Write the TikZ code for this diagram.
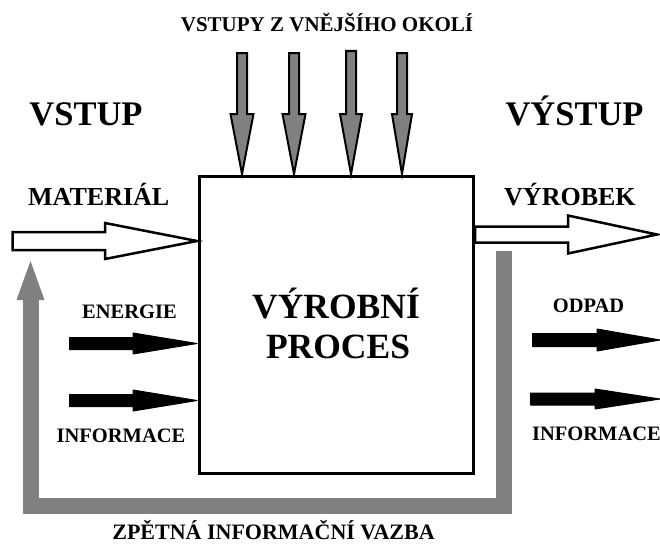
\documentclass[tikz,border=0pt]{standalone}
\usepackage{fontspec}
\setmainfont{Liberation Serif}
\definecolor{midgray}{RGB}{128,128,128}
\newcommand\harrow[7]{% style, x0, x1, y, xbase, shaft half, head half
  \path[#1] (#2,{#4-#6}) -- (#5,{#4-#6}) -- (#5,{#4-#7}) -- (#3,#4) -- (#5,{#4+#7}) -- (#5,{#4+#6}) -- (#2,{#4+#6}) -- cycle;}
\newcommand\varrow[7]{% style, x, y0, y1, ybase, shaft half, head half
  \path[#1] ({#2-#6},#3) -- ({#2-#6},#5) -- ({#2-#7},#5) -- (#2,#4) -- ({#2+#7},#5) -- ({#2+#6},#5) -- ({#2+#6},#3) -- cycle;}
\begin{document}
\begin{tikzpicture}[x=1pt,y=-1pt,
  lbl/.style={inner sep=0pt, font=\bfseries, anchor=base},
  whitearrow/.style={draw=black, fill=white, line width=2.5pt, line join=miter},
  blackarrow/.style={draw=black, fill=black, line width=1pt, line join=round},
  grayarrow/.style={draw=black, fill=midgray, line width=2pt, line join=miter},
  feedback/.style={draw=midgray, line width=16pt, line join=miter}]
\useasboundingbox (0,0) rectangle (660,543);
\fill[white] (0,0) rectangle (660,543);

% feedback loop
\coordinate (fbstart) at (504,251);
\coordinate (fbr) at (504,506);
\coordinate (fbl) at (30.5,506);
\coordinate (fbtop) at (30.5,299);
\draw[feedback] (fbstart) -- (fbr) -- (fbl) -- (fbtop);
\fill[midgray] (16.5,300) -- (30.5,261) -- (44.5,300) -- cycle;

% process box
\node[draw=black, line width=3pt, minimum width=274pt, minimum height=297pt, inner sep=0pt, outer sep=0pt] (box) at (336.5,324.5) {};
\node[lbl, font=\bfseries\fontsize{35.5}{40}\selectfont] (t1) at (336,318) {VÝROBNÍ};
\node[lbl, font=\bfseries\fontsize{35.5}{40}\selectfont] (t2) at (338,358) {PROCES};

% top input arrows
\varrow{grayarrow}{242}{53}{174}{114}{5}{11.5}
\varrow{grayarrow}{294}{53}{174}{114}{5}{11.5}
\varrow{grayarrow}{351}{51}{174}{114}{5}{11}
\varrow{grayarrow}{402}{53}{174}{114}{5}{10}

% material and product arrows
\harrow{whitearrow}{12.5}{197}{241}{105}{9}{18}
\harrow{whitearrow}{475}{657}{234.5}{568}{8}{19}

% energy / information arrows
\harrow{blackarrow}{69.5}{197}{343.5}{133}{6}{10.5}
\harrow{blackarrow}{69.5}{197}{400.5}{133}{6}{10.5}
\harrow{blackarrow}{532.5}{660}{340}{597}{6.5}{11}
\harrow{blackarrow}{530.5}{660}{399}{595}{6}{10}

% labels
\node[lbl, font=\bfseries\fontsize{21}{24}\selectfont] (top) at (327,32) {VSTUPY Z VNĚJŠÍHO OKOLÍ};
\node[lbl, font=\bfseries\fontsize{34.5}{38}\selectfont] (vstup) at (86,125) {VSTUP};
\node[lbl, font=\bfseries\fontsize{34.5}{38}\selectfont] (vystup) at (574.5,125) {VÝSTUP};
\node[lbl, font=\bfseries\fontsize{26}{30}\selectfont, anchor=base west] (mat) at (28,205) {MATERIÁL};
\node[lbl, font=\bfseries\fontsize{26}{30}\selectfont, anchor=base west] (vyr) at (504,205) {VÝROBEK};
\node[lbl, font=\bfseries\fontsize{20.5}{24}\selectfont] (en) at (129.5,318) {ENERGIE};
\node[lbl, font=\bfseries\fontsize{20.5}{24}\selectfont] (infl) at (121,442) {INFORMACE};
\node[lbl, font=\bfseries\fontsize{20.5}{24}\selectfont] (odp) at (588.5,312) {ODPAD};
\node[lbl, font=\bfseries\fontsize{20.5}{24}\selectfont] (infr) at (596.5,440) {INFORMACE};
\node[lbl, font=\bfseries\fontsize{22}{26}\selectfont] (zpet) at (273.5,539.5) {ZPĚTNÁ INFORMAČNÍ VAZBA};
\end{tikzpicture}
\end{document}
